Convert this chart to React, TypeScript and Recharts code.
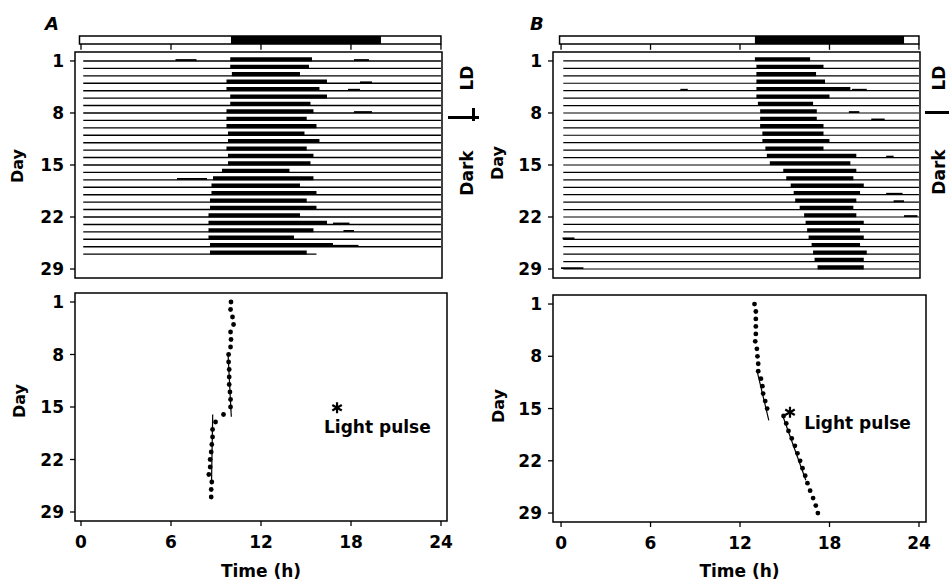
import React from 'react';
import { ComposedChart, XAxis, YAxis, Scatter, ReferenceArea, ReferenceLine, ReferenceDot } from 'recharts';

const hourTicks = [0, 6, 12, 18, 24];
const dayTicks = [1, 8, 15, 22, 29];

// Panel A: actogram rows (day, activity onset/offset in hours)
const actoDaysA = [1, 2, 3, 4, 5, 6, 7, 8, 9, 10, 11, 12, 13, 14, 15, 16, 17, 18, 19, 20, 21, 22, 23, 24, 25, 26, 27];
const actoOnA = [9.95, 9.95, 10.06, 9.7, 9.7, 9.95, 9.95, 9.7, 9.7, 9.7, 9.8, 9.8, 9.7, 9.8, 9.8, 9.4, 8.8, 8.7, 8.7, 8.6, 8.6, 8.5, 8.5, 8.5, 8.5, 8.6, 8.6];
const actoOffA = [15.4, 15.2, 14.6, 16.4, 15.9, 16.4, 15.3, 15.5, 15.05, 15.7, 14.9, 15.9, 15.05, 15.5, 15.3, 13.9, 15.5, 14.6, 15.7, 15.05, 15.7, 14.6, 16.4, 15.5, 14.2, 16.8, 15.05];
const lastRowEndA = 15.7;
const extraBoutsA: [number, number, number][] = [
  [1, 6.3, 7.7], [1, 18.2, 19.2], [4, 18.6, 19.4], [5, 17.8, 18.6], [8, 18.2, 19.4],
  [17, 6.4, 8.4], [23, 16.8, 17.9], [24, 17.5, 18.2], [26, 16.8, 18.5],
];
const lightsA = [10, 20];

// Panel B
const actoDaysB = [1, 2, 3, 4, 5, 6, 7, 8, 9, 10, 11, 12, 13, 14, 15, 16, 17, 18, 19, 20, 21, 22, 23, 24, 25, 26, 27, 28, 29];
const actoOnB = [13.0, 13.1, 13.1, 13.1, 13.1, 13.1, 13.2, 13.35, 13.35, 13.35, 13.5, 13.5, 13.7, 13.8, 14.0, 14.9, 15.1, 15.4, 15.6, 15.7, 16.0, 16.3, 16.4, 16.5, 16.6, 16.8, 16.9, 17.0, 17.2];
const actoOffB = [16.7, 17.6, 17.1, 17.7, 19.4, 18.0, 16.9, 17.15, 17.15, 17.6, 17.6, 18.0, 17.6, 19.8, 19.4, 19.8, 19.6, 20.3, 20.05, 19.8, 19.6, 19.8, 20.3, 20.05, 20.3, 20.05, 20.5, 20.3, 20.3];
const extraBoutsB: [number, number, number][] = [
  [5, 8.0, 8.5], [5, 19.5, 20.5], [8, 19.3, 20.0], [9, 20.8, 21.7], [14, 21.8, 22.3],
  [19, 21.8, 22.9], [20, 22.3, 23.0], [22, 23.0, 23.9], [25, 0.1, 0.9], [29, 0.0, 1.5],
];
const lightsB = [13, 23];

// onset plots
const onsetDaysA = actoDaysA;
const onsetHoursA = [10.0, 9.97, 10.1, 10.17, 9.97, 10.0, 9.97, 9.84, 9.84, 9.88, 9.88, 9.88, 9.93, 9.97, 9.97, 9.5, 8.97, 8.77, 8.77, 8.72, 8.68, 8.61, 8.61, 8.52, 8.72, 8.68, 8.68];
const onsetDaysB = actoDaysB;
const onsetHoursB = [12.97, 13.06, 13.06, 13.06, 13.06, 13.02, 13.13, 13.17, 13.22, 13.22, 13.4, 13.5, 13.55, 13.69, 13.82, 14.92, 15.1, 15.25, 15.47, 15.68, 15.85, 16.03, 16.19, 16.37, 16.52, 16.7, 16.9, 17.08, 17.22];

const fitsA = [
  [{ hour: 9.8, day: 7.8 }, { hour: 10.02, day: 16.3 }],
  [{ hour: 8.78, day: 16.0 }, { hour: 8.7, day: 25.3 }],
];
const fitsB = [
  [{ hour: 13.13, day: 9.85 }, { hour: 13.93, day: 16.6 }],
  [{ hour: 14.87, day: 16.0 }, { hour: 16.41, day: 24.6 }],
];
const pulseA = { hour: 17.07, day: 15.1, labelHour: 16.2, labelDay: 17.7 };
const pulseB = { hour: 15.35, day: 15.5, labelHour: 16.3, labelDay: 16.95 };

const FONT = '"DejaVu Sans", sans-serif';
const tickStyle = { fill: '#000', fontFamily: FONT, fontWeight: 700, fontSize: 17 };

const BAR_TOP = -2.36;
const BAR_BOTTOM = -1.29;

// six-armed asterisk marker for the light pulse
function PulseMark({ cx, cy }: any) {
  const r = 5.5;
  const arms = [90, 30, -30];
  return (
    <g stroke="#000" strokeWidth={2.2} strokeLinecap="butt">
      {arms.map(a => {
        const dx = r * Math.cos((a * Math.PI) / 180);
        const dy = r * Math.sin((a * Math.PI) / 180);
        return <line key={a} x1={cx - dx} y1={cy - dy} x2={cx + dx} y2={cy + dy} />;
      })}
    </g>
  );
}

function Actogram({ left, width, marginRight, xDomain, days, on, off, extras, lights, lastEnd, lineW }: any) {
  const yDomain = [BAR_TOP, 30.21];
  const rows = days.map((d: number, i: number) => ({ day: d, hour: on[i] }));
  return (
    <div style={{ position: 'absolute', left, top: 0 }}>
      <ComposedChart width={width} height={290} data={rows} margin={{ top: 36, right: marginRight, bottom: 12, left: 0 }}>
        <XAxis type="number" dataKey="hour" domain={xDomain} hide allowDataOverflow />
        <YAxis type="number" dataKey="day" domain={yDomain} reversed ticks={dayTicks} interval={0} width={75}
          axisLine={false} tickSize={5} tickMargin={6} tickLine={{ stroke: '#000', strokeWidth: 1.3 }} tick={tickStyle} allowDataOverflow />
        <ReferenceArea x1={-0.1} x2={24} y1={BAR_TOP} y2={BAR_BOTTOM} fill="#fff" fillOpacity={1} stroke="#000" strokeWidth={1.5} ifOverflow="visible" />
        <ReferenceArea x1={lights[0]} x2={lights[1]} y1={BAR_TOP} y2={BAR_BOTTOM} fill="#000" fillOpacity={1} ifOverflow="visible" />
        {hourTicks.map(h => (
          <ReferenceLine key={'t' + h} segment={[{ x: h, y: BAR_BOTTOM }, { x: h, y: -0.5 }]} stroke="#000" strokeWidth={1.3} ifOverflow="visible" />
        ))}
        <ReferenceArea x1={xDomain[0]} x2={xDomain[1]} y1={-0.21} y2={30.21} fill="none" stroke="#000" strokeWidth={1.5} ifOverflow="visible" />
        {days.map((d: number, i: number) => (
          <ReferenceLine key={'b' + d} segment={[{ x: 0.15, y: d }, { x: i === days.length - 1 && lastEnd ? lastEnd : 24, y: d }]}
            stroke="#000" strokeWidth={lineW} ifOverflow="visible" />
        ))}
        {extras.map((e: number[], i: number) => (
          <ReferenceArea key={'e' + i} x1={e[1]} x2={e[2]} y1={e[0] - 0.25} y2={e[0]} fill="#000" fillOpacity={1} ifOverflow="visible" />
        ))}
        {days.map((d: number, i: number) => (
          <ReferenceArea key={'a' + d} x1={on[i]} x2={off[i]} y1={d - 0.5} y2={d + 0.05} fill="#000" fillOpacity={1} ifOverflow="visible" />
        ))}
      </ComposedChart>
    </div>
  );
}

function OnsetPlot({ left, width, marginTop, marginRight, axisH, xDomain, yDomain, days, hours, fits, pulse }: any) {
  const pts = days.map((d: number, i: number) => ({ day: d, hour: hours[i] }));
  return (
    <div style={{ position: 'absolute', left, top: 290 }}>
      <ComposedChart width={width} height={291} margin={{ top: marginTop, right: marginRight, bottom: 0, left: 0 }}>
        <XAxis type="number" dataKey="hour" domain={xDomain} ticks={hourTicks} interval={0} height={axisH}
          axisLine={false} tickSize={5} tickMargin={10} tickLine={{ stroke: '#000', strokeWidth: 1.3 }} tick={tickStyle} allowDataOverflow
          label={{ value: 'Time (h)', position: 'insideBottom', offset: 4, fill: '#000', fontFamily: FONT, fontWeight: 700, fontSize: 17 }} />
        <YAxis type="number" dataKey="day" domain={yDomain} reversed ticks={dayTicks} interval={0} width={75}
          axisLine={false} tickSize={5} tickMargin={6} tickLine={{ stroke: '#000', strokeWidth: 1.3 }} tick={tickStyle} allowDataOverflow />
        <ReferenceArea x1={xDomain[0]} x2={xDomain[1]} y1={yDomain[0]} y2={yDomain[1]} fill="none" stroke="#000" strokeWidth={1.5} ifOverflow="visible" />
        {fits.map((f: any[], i: number) => (
          <ReferenceLine key={'f' + i} segment={f.map(p => ({ x: p.hour, y: p.day }))} stroke="#000" strokeWidth={1.2} ifOverflow="visible" />
        ))}
        <Scatter data={pts} dataKey="day" isAnimationActive={false}
          shape={(p: any) => <circle cx={p.cx} cy={p.cy} r={2.4} fill="#000" />} />
        <ReferenceDot x={pulse.hour} y={pulse.day} r={0} ifOverflow="visible" shape={(p: any) => <PulseMark cx={p.cx} cy={p.cy} />} />
        <ReferenceDot x={pulse.labelHour} y={pulse.labelDay} r={0} ifOverflow="visible"
          shape={(p: any) => <text x={p.cx} y={p.cy + 6} textAnchor="start" fontFamily={FONT} fontWeight={700} fontSize={17} fill="#000">Light pulse</text>} />
      </ComposedChart>
    </div>
  );
}

const labelBase: React.CSSProperties = {
  position: 'absolute', fontFamily: FONT, fontWeight: 700, fontSize: 17, color: '#000',
  whiteSpace: 'nowrap', lineHeight: 1,
};

function VText({ x, y, text, size = 17 }: { x: number; y: number; text: string; size?: number }) {
  return (
    <div style={{ ...labelBase, fontSize: size, left: x, top: y, transform: 'translate(-50%, -50%) rotate(-90deg)' }}>{text}</div>
  );
}

export default function App() {
  return (
    <div style={{ position: 'absolute', left: 0, top: 0, width: 949, height: 581, overflow: 'hidden', background: '#fff' }}>
      <Actogram left={0} width={470} marginRight={28} xDomain={[-0.4, 24.07]} days={actoDaysA} on={actoOnA} off={actoOffA}
        extras={extraBoutsA} lights={lightsA} lastEnd={lastRowEndA} lineW={1.4} />
      <Actogram left={478} width={471} marginRight={29} xDomain={[-0.54, 24.07]} days={actoDaysB} on={actoOnB} off={actoOffB}
        extras={extraBoutsB} lights={lightsB} lastEnd={null} lineW={1.2} />
      <OnsetPlot left={0} width={470} marginTop={3} marginRight={23} axisH={60} xDomain={[-0.4, 24.4]} yDomain={[-0.2, 30.2]}
        days={onsetDaysA} hours={onsetHoursA} fits={fitsA} pulse={pulseA} />
      <OnsetPlot left={478} width={471} marginTop={5} marginRight={23} axisH={59} xDomain={[-0.54, 24.47]} yDomain={[-0.21, 30.2]}
        days={onsetDaysB} hours={onsetHoursB} fits={fitsB} pulse={pulseB} />

      <div style={{ ...labelBase, fontStyle: 'italic', fontSize: 18, left: 45, top: 15 }}>A</div>
      <div style={{ ...labelBase, fontStyle: 'italic', fontSize: 18, left: 530, top: 15 }}>B</div>

      <VText x={18} y={166} text="Day" size={16} />
      <VText x={20} y={401} text="Day" size={16} />
      <VText x={498} y={163} text="Day" size={16} />
      <VText x={499} y={406} text="Day" size={16} />

      <VText x={467} y={78} text="LD" />
      <VText x={467} y={173} text="Dark" />
      <div style={{ position: 'absolute', left: 448, top: 116, width: 31, height: 3, background: '#000' }} />
      <div style={{ position: 'absolute', left: 472, top: 108, width: 3, height: 13, background: '#000' }} />

      <VText x={939} y={78} text="LD" />
      <VText x={939} y={172} text="Dark" />
      <div style={{ position: 'absolute', left: 925, top: 111, width: 24, height: 3, background: '#000' }} />
    </div>
  );
}
